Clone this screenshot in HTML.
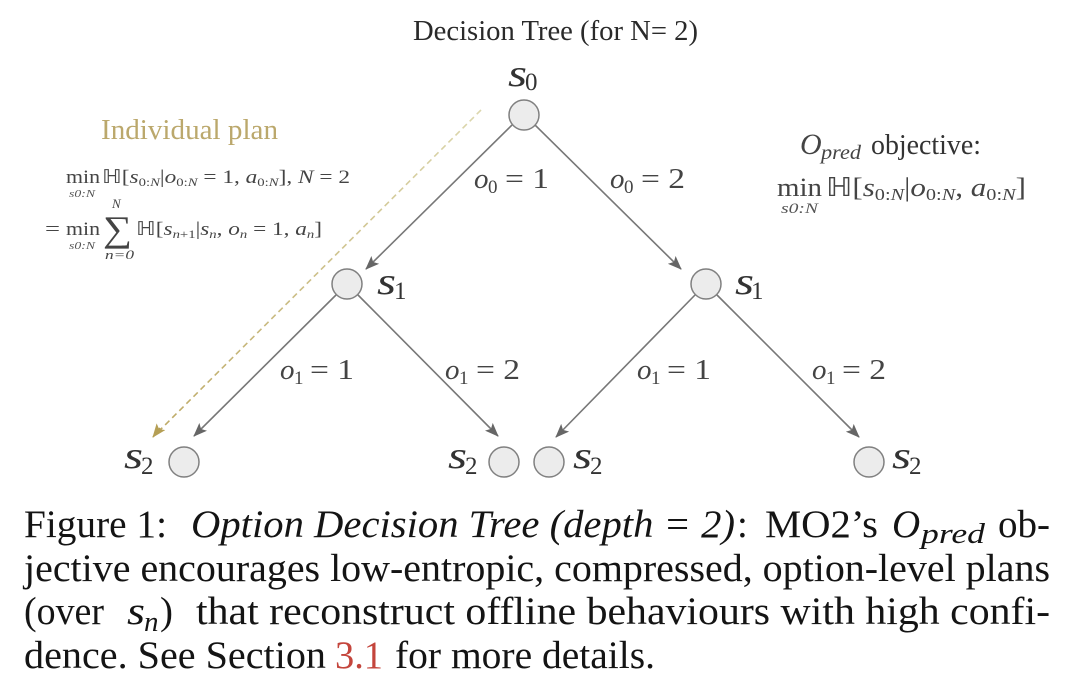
<!DOCTYPE html>
<html><head><meta charset="utf-8">
<style>
html,body{margin:0;padding:0;background:#fff;width:1080px;height:684px;overflow:hidden}
svg{display:block}
text{font-family:"Liberation Serif",serif;white-space:pre}
.m{font-style:italic}
.cap{font-size:39px;fill:#141414}
.lab{font-size:29px;fill:#444}
.ls{font-size:19px;fill:#444}
.fm{font-size:19px;fill:#444}
.i{font-style:italic}
</style></head>
<body>
<svg width="1080" height="684" viewBox="0 0 1080 684" xmlns="http://www.w3.org/2000/svg">
<defs>
<marker id="a" viewBox="0 0 14 11" refX="13" refY="5.5" markerWidth="14" markerHeight="11" markerUnits="userSpaceOnUse" orient="auto"><path d="M0 0L14 5.5L0 11L3 5.5Z" fill="#666"/></marker>
<marker id="g" viewBox="0 0 14 11" refX="13" refY="5.5" markerWidth="14" markerHeight="11" markerUnits="userSpaceOnUse" orient="auto"><path d="M0 0L14 5.5L0 11L3 5.5Z" fill="#b59f55"/></marker>
<linearGradient id="lg" gradientUnits="userSpaceOnUse" x1="481" y1="110" x2="153" y2="437"><stop offset="0" stop-color="#dcd7ae"/><stop offset="1" stop-color="#bda965"/></linearGradient>
</defs>
<text x="413" y="40" font-size="29" fill="#2a2a2a" textLength="285" lengthAdjust="spacingAndGlyphs">Decision Tree (for N= 2)</text>
<text x="101" y="139" font-size="28" fill="#bba86c" textLength="177" lengthAdjust="spacingAndGlyphs">Individual plan</text>

<g fill="none" stroke="#777" stroke-width="1.6">
<path d="M512 125L366 269" marker-end="url(#a)"/>
<path d="M535 125L681 269" marker-end="url(#a)"/>
<path d="M336 295L194 436" marker-end="url(#a)"/>
<path d="M358 295L498 436" marker-end="url(#a)"/>
<path d="M695 295L556 437" marker-end="url(#a)"/>
<path d="M717 295L859 437" marker-end="url(#a)"/>
</g>
<path d="M481 110L155 435" fill="none" stroke="url(#lg)" stroke-width="1.6" stroke-dasharray="6 4"/>
<path d="M160 428L153 437" fill="none" stroke="#b59f55" stroke-width="1.6" marker-end="url(#g)"/>
<g fill="#ececec" stroke="#808080" stroke-width="1.5">
<circle cx="524" cy="115" r="15"/>
<circle cx="347" cy="284" r="15"/>
<circle cx="706" cy="284" r="15"/>
<circle cx="184" cy="462" r="15"/>
<circle cx="504" cy="462" r="15"/>
<circle cx="549" cy="462" r="15"/>
<circle cx="869" cy="462" r="15"/>
</g>

<g fill="#333">
<text class="m" x="508" y="86" font-size="38" textLength="19" lengthAdjust="spacingAndGlyphs">s</text><text x="525" y="90" font-size="25">0</text>
<text class="m" x="377" y="294" font-size="38" textLength="19" lengthAdjust="spacingAndGlyphs">s</text><text x="394" y="299" font-size="25">1</text>
<text class="m" x="735" y="294" font-size="38" textLength="19" lengthAdjust="spacingAndGlyphs">s</text><text x="751" y="299" font-size="25">1</text>
<text class="m" x="124" y="468" font-size="38" textLength="19" lengthAdjust="spacingAndGlyphs">s</text><text x="141" y="474" font-size="25">2</text>
<text class="m" x="448" y="468" font-size="38" textLength="19" lengthAdjust="spacingAndGlyphs">s</text><text x="465" y="474" font-size="25">2</text>
<text class="m" x="573" y="468" font-size="38" textLength="19" lengthAdjust="spacingAndGlyphs">s</text><text x="590" y="474" font-size="25">2</text>
<text class="m" x="892" y="468" font-size="38" textLength="19" lengthAdjust="spacingAndGlyphs">s</text><text x="909" y="474" font-size="25">2</text>
</g>

<text class="lab m" x="474" y="188">o</text><text class="ls" x="488" y="193">0</text><text class="lab" x="505" y="188" textLength="44" lengthAdjust="spacingAndGlyphs">= 1</text>
<text class="lab m" x="610" y="188">o</text><text class="ls" x="624" y="193">0</text><text class="lab" x="641" y="188" textLength="44" lengthAdjust="spacingAndGlyphs">= 2</text>
<text class="lab m" x="280" y="379">o</text><text class="ls" x="294" y="384">1</text><text class="lab" x="310" y="379" textLength="44" lengthAdjust="spacingAndGlyphs">= 1</text>
<text class="lab m" x="445" y="379">o</text><text class="ls" x="459" y="384">1</text><text class="lab" x="476" y="379" textLength="44" lengthAdjust="spacingAndGlyphs">= 2</text>
<text class="lab m" x="637" y="379">o</text><text class="ls" x="651" y="384">1</text><text class="lab" x="667" y="379" textLength="44" lengthAdjust="spacingAndGlyphs">= 1</text>
<text class="lab m" x="812" y="379">o</text><text class="ls" x="826" y="384">1</text><text class="lab" x="842" y="379" textLength="44" lengthAdjust="spacingAndGlyphs">= 2</text>

<!-- left formula -->
<text class="fm" x="66" y="183" textLength="34" lengthAdjust="spacingAndGlyphs">min</text>
<text class="m" x="69" y="197" font-size="11" fill="#555" textLength="26" lengthAdjust="spacingAndGlyphs">s0:N</text>
<text class="fm" x="102" y="183" textLength="248" lengthAdjust="spacingAndGlyphs">ℍ[<tspan class="i">s</tspan><tspan dy="3" font-size="12">0:<tspan class="i">N</tspan></tspan><tspan dy="-3">|</tspan><tspan class="i">o</tspan><tspan dy="3" font-size="12">0:<tspan class="i">N</tspan></tspan><tspan dy="-3"> = 1, </tspan><tspan class="i">a</tspan><tspan dy="3" font-size="12">0:<tspan class="i">N</tspan></tspan><tspan dy="-3">], </tspan><tspan class="i">N</tspan> = 2</text>
<text class="fm" x="45" y="235" textLength="15" lengthAdjust="spacingAndGlyphs">=</text>
<text class="fm" x="66" y="235" textLength="34" lengthAdjust="spacingAndGlyphs">min</text>
<text class="m" x="69" y="249" font-size="11" fill="#555" textLength="26" lengthAdjust="spacingAndGlyphs">s0:N</text>
<text class="m" x="112" y="208" font-size="13" fill="#444">N</text>
<text x="103" y="241" font-size="36" fill="#444" textLength="29" lengthAdjust="spacingAndGlyphs">∑</text>
<text class="m" x="105" y="259" font-size="13" fill="#444" textLength="29" lengthAdjust="spacingAndGlyphs">n=0</text>
<text class="fm" x="136" y="235" textLength="186" lengthAdjust="spacingAndGlyphs">ℍ[<tspan class="i">s</tspan><tspan dy="3" font-size="12"><tspan class="i">n</tspan>+1</tspan><tspan dy="-3">|</tspan><tspan class="i">s</tspan><tspan dy="3" font-size="12" class="i">n</tspan><tspan dy="-3">, </tspan><tspan class="i">o</tspan><tspan dy="3" font-size="12" class="i">n</tspan><tspan dy="-3"> = 1, </tspan><tspan class="i">a</tspan><tspan dy="3" font-size="12" class="i">n</tspan><tspan dy="-3">]</tspan></text>

<!-- right formula -->
<text class="m" x="800" y="154" font-size="30" fill="#444">O</text>
<text class="m" x="821" y="159" font-size="20" fill="#444" textLength="40" lengthAdjust="spacingAndGlyphs">pred</text>
<text x="871" y="154" font-size="28" fill="#333" textLength="110" lengthAdjust="spacingAndGlyphs">objective:</text>
<text x="777" y="196" font-size="26" fill="#444" textLength="45" lengthAdjust="spacingAndGlyphs">min</text>
<text class="m" x="781" y="213" font-size="15" fill="#555" textLength="37" lengthAdjust="spacingAndGlyphs">s0:N</text>
<text x="826" y="196" font-size="26" fill="#444" textLength="200" lengthAdjust="spacingAndGlyphs">ℍ[<tspan class="i">s</tspan><tspan dy="4" font-size="17">0:<tspan class="i">N</tspan></tspan><tspan dy="-4">|</tspan><tspan class="i">o</tspan><tspan dy="4" font-size="17">0:<tspan class="i">N</tspan></tspan><tspan dy="-4">, </tspan><tspan class="i">a</tspan><tspan dy="4" font-size="17">0:<tspan class="i">N</tspan></tspan><tspan dy="-4">]</tspan></text>

<!-- caption -->
<text class="cap" x="24" y="537" textLength="143" lengthAdjust="spacingAndGlyphs">Figure 1:</text>
<text class="cap m" x="191" y="537" textLength="544" lengthAdjust="spacingAndGlyphs">Option Decision Tree (depth = 2)</text>
<text class="cap" x="737" y="537">:</text>
<text class="cap" x="765" y="537" textLength="113" lengthAdjust="spacingAndGlyphs">MO2’s</text>
<text class="cap m" x="892" y="537">O</text>
<text class="m" x="921" y="543" font-size="29" fill="#141414" textLength="64" lengthAdjust="spacingAndGlyphs">pred</text>
<text class="cap" x="998" y="537" textLength="52" lengthAdjust="spacingAndGlyphs">ob-</text>
<text class="cap" x="24" y="581" textLength="1026" lengthAdjust="spacingAndGlyphs">jective encourages low-entropic, compressed, option-level plans</text>
<text class="cap" x="24" y="624" textLength="80" lengthAdjust="spacingAndGlyphs">(over</text>
<text class="cap m" x="127" y="624" textLength="18" lengthAdjust="spacingAndGlyphs">s</text>
<text x="144" y="631" class="m" font-size="29" fill="#141414">n</text>
<text class="cap" x="160" y="624">)</text>
<text class="cap" x="196" y="624" textLength="854" lengthAdjust="spacingAndGlyphs">that reconstruct offline behaviours with high confi-</text>
<text class="cap" x="24" y="668" textLength="302" lengthAdjust="spacingAndGlyphs">dence. See Section</text>
<text class="cap" x="335" y="668" style="fill:#c4453c" textLength="48" lengthAdjust="spacingAndGlyphs">3.1</text>
<text class="cap" x="395" y="668" textLength="260" lengthAdjust="spacingAndGlyphs">for more details.</text>
</svg>
</body></html>
